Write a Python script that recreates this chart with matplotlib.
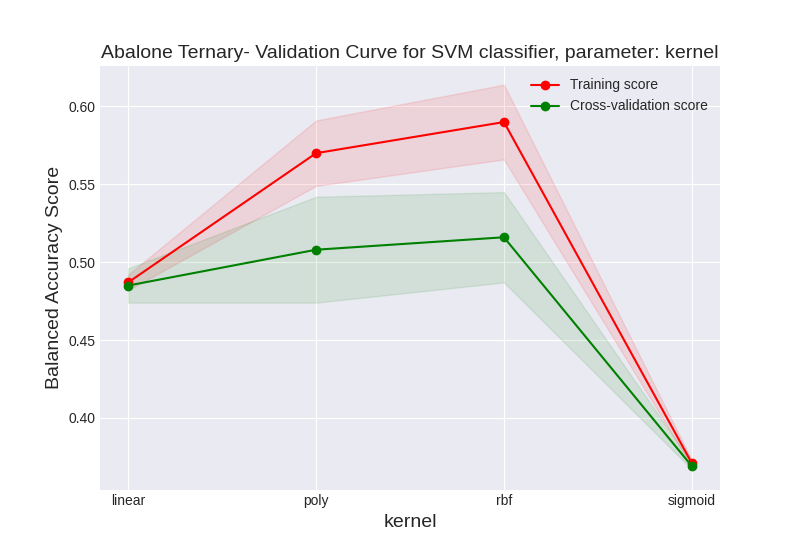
import matplotlib
matplotlib.use('Agg')
import matplotlib.pyplot as plt
import numpy as np

kernels = ['linear', 'poly', 'rbf', 'sigmoid']
train_mean = [0.487, 0.570, 0.590, 0.371]
train_std = [0.005, 0.021, 0.024, 0.002]
cv_mean = [0.485, 0.508, 0.516, 0.369]
cv_std = [0.011, 0.034, 0.029, 0.002]

plt.style.use('seaborn-v0_8-darkgrid')
plt.rcParams['font.family'] = ['Arial', 'Liberation Sans', 'DejaVu Sans']

fig = plt.figure(figsize=(8, 5.5), dpi=100)
ax = plt.gca()
x = np.arange(len(kernels))
tm, ts = np.array(train_mean), np.array(train_std)
cm, cs = np.array(cv_mean), np.array(cv_std)

ax.plot(x, tm, 'o-', color='red', label='Training score')
ax.fill_between(x, tm - ts, tm + ts, alpha=0.1, color='red')
ax.plot(x, cm, 'o-', color='green', label='Cross-validation score')
ax.fill_between(x, cm - cs, cm + cs, alpha=0.1, color='green')

ax.set_xticks(x)
ax.set_xticklabels(kernels)
ax.set_ylim(0.354, 0.626)
ax.set_title('Abalone Ternary- Validation Curve for SVM classifier, parameter: kernel', fontsize=14)
ax.set_xlabel('kernel', fontsize=14)
ax.set_ylabel('Balanced Accuracy Score', fontsize=14)
ax.legend(loc='best')

plt.savefig('out.png', dpi=100)
